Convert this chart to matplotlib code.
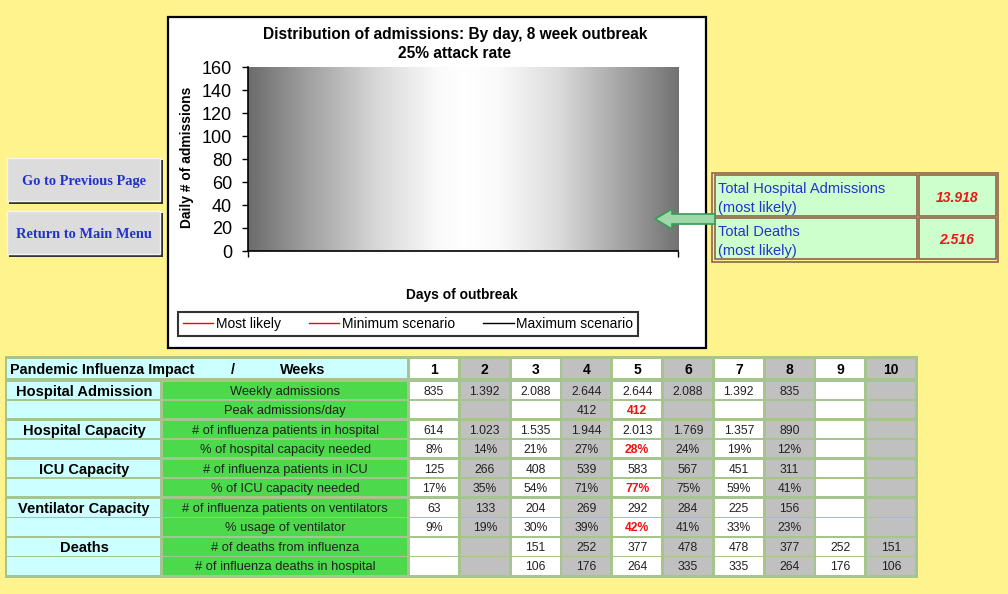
import matplotlib
matplotlib.use('Agg')
import matplotlib.pyplot as plt
import numpy as np
from matplotlib.patches import Rectangle, Polygon
from matplotlib.colors import LinearSegmentedColormap

plt.rcParams['font.family'] = ['Liberation Sans', 'DejaVu Sans']

# ---- chart data ----
chart_title = 'Distribution of admissions: By day, 8 week outbreak\n25% attack rate'
y_ticks = [0, 20, 40, 60, 80, 100, 120, 140, 160]
n_days = 56
series_names = ['Most likely', 'Minimum scenario', 'Maximum scenario']
series_colors = ['red', 'red', 'black']
# the series are empty in the screenshot (nothing is drawn)
days = []
most_likely = []
minimum = []
maximum = []

# ---- summary box ----
total_admissions = '13.918'
total_deaths = '2.516'

# ---- table data ----
weeks = [1, 2, 3, 4, 5, 6, 7, 8, 9, 10]
groups = ['Hospital Admission', 'Hospital Capacity', 'ICU Capacity',
          'Ventilator Capacity', 'Deaths']
row_labels = ['Weekly admissions', 'Peak admissions/day',
              '# of influenza patients in hospital', '% of hospital capacity needed',
              '# of influenza patients in ICU', '% of ICU capacity needed',
              '# of influenza patients on ventilators', '% usage of ventilator',
              '# of deaths from influenza', '# of influenza deaths in hospital']
weekly_adm = [835, 1392, 2088, 2644, 2644, 2088, 1392, 835, None, None]
peak_day = [None, None, None, 412, 412, None, None, None, None, None]
hosp_pat = [614, 1023, 1535, 1944, 2013, 1769, 1357, 890, None, None]
hosp_pct = [8, 14, 21, 27, 28, 24, 19, 12, None, None]
icu_pat = [125, 266, 408, 539, 583, 567, 451, 311, None, None]
icu_pct = [17, 35, 54, 71, 77, 75, 59, 41, None, None]
vent_pat = [63, 133, 204, 269, 292, 284, 225, 156, None, None]
vent_pct = [9, 19, 30, 39, 42, 41, 33, 23, None, None]
deaths = [None, None, 151, 252, 377, 478, 478, 377, 252, 151]
deaths_hosp = [None, None, 106, 176, 264, 335, 335, 264, 176, 106]

rows = [weekly_adm, peak_day, hosp_pat, hosp_pct, icu_pat, icu_pct,
        vent_pat, vent_pct, deaths, deaths_hosp]
pct_rows = [3, 5, 7]
red_rows = [1, 3, 5, 7]   # peak week shown in red
peak_week = 5

yellow = '#fff38e'
cyan = '#ccffff'
green = '#4cd94c'
gray = '#c0c0c0'
gridc = '#a6c48e'
blue = '#2233cc'


def fmt(v, pct):
    if v is None:
        return ''
    if pct:
        return '%d%%' % v
    return '{:,}'.format(v).replace(',', '.')


fig = plt.figure(figsize=(10.08, 5.94), dpi=100, facecolor=yellow)
bg = fig.add_axes([0, 0, 1, 1])
bg.set_xlim(0, 1008)
bg.set_ylim(594, 0)
bg.axis('off')

# buttons
for y0, txt in [(158, 'Go to Previous Page'), (211, 'Return to Main Menu')]:
    bg.add_patch(Rectangle((9, y0 + 2), 154, 44, fc='#333333', ec='none'))
    bg.add_patch(Rectangle((7, y0), 153, 43, fc='#dcdcdc', ec='#f4f4f4', lw=1))
    bg.text(84, y0 + 22, txt, ha='center', va='center_baseline', color=blue,
            fontsize=10.4, fontweight='bold', family='Liberation Serif')

# chart frame
bg.add_patch(Rectangle((168, 17), 538, 331, fc='white', ec='black', lw=1.6))
bg.text(455, 44, chart_title, ha='center', va='center', fontsize=11.2,
        fontweight='bold', linespacing=1.3)
bg.text(187, 157, 'Daily # of admissions', rotation=90, ha='center',
        va='center', fontsize=9.9, fontweight='bold')
bg.text(462, 295, 'Days of outbreak', ha='center', va='center',
        fontsize=9.9, fontweight='bold')

# summary box
bg.add_patch(Rectangle((712, 173), 286, 89, fc=yellow, ec='#8c6450', lw=1.2))
for y0, lab, val in [(175, 'Total Hospital Admissions\n(most likely)', total_admissions),
                     (218, 'Total Deaths\n(most likely)', total_deaths)]:
    bg.add_patch(Rectangle((715, y0), 202, 41, fc='#ccffcc', ec='#8c6450', lw=1.2))
    bg.add_patch(Rectangle((919, y0), 77, 41, fc='#ccffcc', ec='#8c6450', lw=1.2))
    bg.text(718, y0 + 23.5, lab, ha='left', va='center', color=blue,
            fontsize=10.5, linespacing=1.45)
    bg.text(957, y0 + 21, val, ha='center', va='center_baseline', color='#e81818',
            fontsize=10, fontweight='bold', style='italic')

# table
bg.add_patch(Rectangle((5, 356), 913, 222, fc=gridc, ec='none'))
bg.add_patch(Rectangle((7, 359), 400, 19, fc=cyan, ec='none'))
bg.text(10, 368.5, 'Pandemic Influenza Impact', ha='left', va='center_baseline',
        fontsize=10.4, fontweight='bold')
bg.text(233, 368.5, '/', ha='center', va='center_baseline', fontsize=10.4, fontweight='bold')
bg.text(303, 368.5, 'Weeks', ha='center', va='center_baseline', fontsize=10.4,
        fontweight='bold')
col_x = [410 + i * 50.8 for i in range(len(weeks))]
for i, w in enumerate(weeks):
    fc = 'white' if i % 2 == 0 else gray
    bg.add_patch(Rectangle((col_x[i], 359), 48, 19, fc=fc, ec='none'))
    bg.text(col_x[i] + 24, 368.5, str(w), ha='center', va='center_baseline',
            fontsize=10, fontweight='bold')

for r, lab in enumerate(row_labels):
    g = r // 2
    y0 = 381.7 + g * 39.1 + (r % 2) * 19
    h = 17.5
    bg.add_patch(Rectangle((7, y0), 153, h, fc=cyan, ec='none'))
    if r % 2 == 0:
        bg.text(84, y0 + h / 2, groups[g], ha='center', va='center_baseline',
                fontsize=10.5, fontweight='bold')
    bg.add_patch(Rectangle((162.5, y0), 244.5, h, fc=green, ec='none'))
    bg.text(285, y0 + h / 2, lab, ha='center', va='center_baseline', fontsize=9.3,
            color='#222222')
    for i, v in enumerate(rows[r]):
        fc = 'white' if i % 2 == 0 else gray
        bg.add_patch(Rectangle((col_x[i], y0), 48, h, fc=fc, ec='none'))
        red = r in red_rows and weeks[i] == peak_week
        bg.text(col_x[i] + 24, y0 + h / 2, fmt(v, r in pct_rows), ha='center',
                va='center_baseline', fontsize=8.7,
                color='#ee1111' if red else '#222222',
                fontweight='bold' if red else 'normal')

# plot area
ax = fig.add_axes([247.5 / 1008, 1 - 251 / 594, 430.5 / 1008, 184 / 594])
cmap = LinearSegmentedColormap.from_list('g', [(0, '#6c6c6c'), (0.12, '#9a9a9a'),
                                               (0.3, '#d8d8d8'), (0.44, '#fafafa'),
                                               (0.5, '#ffffff'), (0.58, '#fafafa'),
                                               (0.72, '#dcdcdc'), (0.88, '#a0a0a0'),
                                               (1, '#727272')])
ax.imshow(np.linspace(0, 1, 256)[None, :], cmap=cmap, aspect='auto',
          extent=(0, n_days, 0, 160), zorder=0, interpolation='bilinear')
l1, = ax.plot(days, most_likely, color=series_colors[0], lw=1)
l2, = ax.plot(days, minimum, color=series_colors[1], lw=1)
l3, = ax.plot(days, maximum, color=series_colors[2], lw=1)
ax.set_xlim(0, n_days)
ax.set_ylim(0, 160)
ax.set_yticks(y_ticks)
ax.set_xticks([0, n_days])
ax.set_xticklabels([])
ax.tick_params(axis='y', direction='out', length=4, labelsize=13, pad=7, width=1)
ax.tick_params(axis='x', direction='out', length=4, width=1)
for s in ['top', 'right']:
    ax.spines[s].set_visible(False)
for s in ['left', 'bottom']:
    ax.spines[s].set_linewidth(1.2)

leg = ax.legend([l1, l2, l3], series_names, loc='center', ncol=3,
                bbox_to_anchor=(408 / 1008, 1 - 324 / 594), bbox_transform=fig.transFigure,
                fontsize=10, frameon=True, fancybox=False, edgecolor='black',
                handlelength=2.2, handletextpad=0.2, columnspacing=2.0,
                borderpad=0.35, borderaxespad=0)
leg.get_frame().set_linewidth(1.5)

# arrow pointing at the chart
arrow = Polygon([(655, 219), (672, 209), (672, 214), (715, 214), (715, 224),
                 (672, 224), (672, 229)], closed=True, fc='#9ed8a8', ec='#3a9a5a',
                lw=1.2, transform=bg.transData, clip_on=False, zorder=5)
ax.add_patch(arrow)

fig.savefig('out.png', dpi=100, facecolor=yellow)
